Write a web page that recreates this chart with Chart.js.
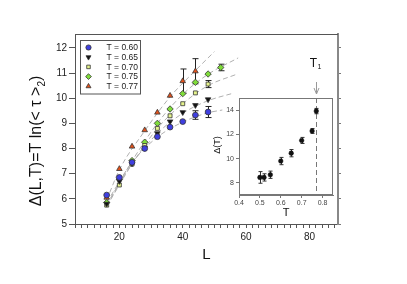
<!DOCTYPE html>
<html>
<head>
<meta charset="utf-8">
<script src="https://cdn.jsdelivr.net/npm/chart.js@4"></script>
<style>
  body { margin: 0; background: #fff; }
  #wrap { position: relative; width: 407px; height: 284px; }
  #main { position: absolute; left: 0; top: 0; }
  #inset { position: absolute; left: 200px; top: 50px; }
</style>
</head>
<body>
<div id="wrap">
  <canvas id="main" width="407" height="284"></canvas>
  <canvas id="inset" width="140" height="180"></canvas>
</div>
<script>
// main plot data: L and Delta(L,T) per temperature
const sizesL = [16, 20, 24, 28, 32, 36, 40, 44, 48, 52];
const temps = ['0.60', '0.65', '0.70', '0.75', '0.77'];
const delta060 = [6.15, 6.85, 7.45, 8.0, 8.47, 8.85, 9.07, 9.33, 9.45, null];
const delta065 = [5.8, 6.7, 7.4, 8.02, 8.6, 9.07, 9.44, 9.72, 9.95, null];
const delta070 = [5.75, 6.55, 7.38, 8.12, 8.8, 9.3, 9.78, 10.21, 10.56, null];
const delta075 = [5.85, 6.78, 7.52, 8.25, 9.0, 9.57, 10.18, 10.63, 10.96, 11.22];
const delta077 = [6.05, 7.19, 8.08, 8.73, 9.43, 10.1, 10.68, 11.07, null, null];
const err060 = [null, null, null, null, null, null, null, 0.17, 0.22, null];
const err065 = [null, null, null, null, null, null, null, null, null, null];
const err070 = [null, null, null, null, null, null, null, null, 0.14, null];
const err075 = [null, null, null, null, null, null, null, null, null, 0.13];
const err077 = [null, null, null, null, null, null, 0.48, 0.5, null, null];

// dashed fit curves
const fitL060 = [16, 24, 32, 40, 48, 52.5];
const fitY060 = [5.85, 7.45, 8.45, 9.05, 9.42, 9.53];
const fitL065 = [16, 24, 32, 40, 48, 56];
const fitY065 = [5.75, 7.4, 8.6, 9.4, 9.9, 10.2];
const fitL070 = [16, 24, 32, 40, 48, 57];
const fitY070 = [5.7, 7.38, 8.8, 9.78, 10.5, 10.95];
const fitL075 = [16, 24, 32, 40, 48, 57.5];
const fitY075 = [5.75, 7.5, 9.0, 10.15, 10.95, 11.6];
const fitL077 = [16, 20, 28, 36, 44, 50];
const fitY077 = [5.95, 7.15, 8.7, 10.05, 11.1, 11.85];

const xTicks = [];
for (let v = 6; v <= 88; v += 2) xTicks.push(v);
const yTicks = [5, 6, 7, 8, 9, 10, 11, 12];

// inset data: Delta(T) vs T
const insetT = [0.50, 0.52, 0.55, 0.60, 0.65, 0.70, 0.75, 0.77];
const insetDelta = [8.45, 8.45, 8.67, 9.8, 10.45, 11.5, 12.28, 13.92];
const insetErr = [0.48, 0.3, 0.3, 0.3, 0.3, 0.25, 0.2, 0.22];
const insetXTicks = [0.4, 0.5, 0.6, 0.7, 0.8];
const insetYTicks = [8, 10, 12, 14];
const tOne = 0.77;

const pts = (xs, ys) => xs.map((x, i) => ({ x: x, y: ys[i] })).filter(p => p.y !== null);

const styles = [
  { fill: '#3f3fe0', shape: 'circle', rot: 0, r: 2.9 },
  { fill: '#111111', shape: 'triangle', rot: 180, r: 3.2 },
  { fill: '#e4f28c', shape: 'rect', rot: 0, r: 2.8 },
  { fill: '#7fdc3a', shape: 'rectRot', rot: 0, r: 3.2 },
  { fill: '#e2521c', shape: 'triangle', rot: 0, r: 3.2 }
];
const series = [delta060, delta065, delta070, delta075, delta077];
const errors = [err060, err065, err070, err075, err077];
const fits = [[fitL060, fitY060], [fitL065, fitY065], [fitL070, fitY070], [fitL075, fitY075], [fitL077, fitY077]];

const datasets = [];
series.forEach((s, i) => {
  datasets.push({
    label: 'T = ' + temps[i],
    data: pts(sizesL, s),
    showLine: false,
    pointStyle: styles[i].shape,
    rotation: styles[i].rot,
    pointRadius: styles[i].r,
    backgroundColor: styles[i].fill,
    borderColor: '#333',
    borderWidth: 0.8,
    errs: errors[i],
    order: 0
  });
});
fits.forEach(f => {
  datasets.push({
    data: pts(f[0], f[1]),
    showLine: true,
    pointRadius: 0,
    borderColor: '#b0b0b0',
    borderWidth: 1,
    borderDash: [5, 3],
    cubicInterpolationMode: 'monotone',
    order: 1
  });
});

function drawMarker(ctx, st, x, y) {
  ctx.save();
  ctx.fillStyle = st.fill;
  ctx.strokeStyle = '#333';
  ctx.lineWidth = 0.8;
  Chart.helpers.drawPoint(ctx, { pointStyle: st.shape, rotation: st.rot, radius: st.r, borderWidth: 0.8 }, x, y);
  ctx.restore();
}

const mainDecor = {
  id: 'mainDecor',
  beforeDatasetsDraw(chart) {
    const ctx = chart.ctx, xs = chart.scales.x, ys = chart.scales.y;
    ctx.save();
    ctx.strokeStyle = '#222';
    ctx.lineWidth = 1;
    chart.data.datasets.forEach((ds, k) => {
      if (!ds.errs) return;
      sizesL.forEach((l, i) => {
        const e = ds.errs[i];
        const v = series[k][i];
        if (e == null || v == null) return;
        const px = Math.round(xs.getPixelForValue(l)) + 0.5;
        const y1 = ys.getPixelForValue(v + e), y2 = ys.getPixelForValue(v - e);
        ctx.beginPath();
        ctx.moveTo(px, y1); ctx.lineTo(px, y2);
        ctx.moveTo(px - 3, y1); ctx.lineTo(px + 3, y1);
        ctx.moveTo(px - 3, y2); ctx.lineTo(px + 3, y2);
        ctx.stroke();
      });
    });
    ctx.restore();
  },
  afterDraw(chart) {
    const ctx = chart.ctx, a = chart.chartArea;
    ctx.save();
    // top frame line
    ctx.strokeStyle = '#555';
    ctx.lineWidth = 1;
    ctx.beginPath();
    ctx.moveTo(a.left, a.top + 0.5); ctx.lineTo(a.right, a.top + 0.5);
    ctx.stroke();

    // y title with subscript
    ctx.fillStyle = '#111';
    ctx.translate(41, 141);
    ctx.rotate(-Math.PI / 2);
    const main = '\u0394(L,T)=T ln(< \u03C4 >';
    ctx.font = '16px "Liberation Sans", Arial, sans-serif';
    const w1 = ctx.measureText(main).width;
    ctx.font = '10px "Liberation Sans", Arial, sans-serif';
    const w2 = ctx.measureText('2').width;
    ctx.font = '16px "Liberation Sans", Arial, sans-serif';
    const w3 = ctx.measureText(')').width;
    const x0 = -(w1 + w2 + w3) / 2;
    ctx.textBaseline = 'alphabetic';
    ctx.fillText(main, x0, 0);
    ctx.font = '10px "Liberation Sans", Arial, sans-serif';
    ctx.fillText('2', x0 + w1, 4);
    ctx.font = '16px "Liberation Sans", Arial, sans-serif';
    ctx.fillText(')', x0 + w1 + w2, 0);
    ctx.restore();

    // x title
    ctx.save();
    ctx.fillStyle = '#111';
    ctx.font = '15px "Liberation Sans", Arial, sans-serif';
    ctx.textAlign = 'center';
    ctx.textBaseline = 'middle';
    ctx.fillText('L', 206.5, 255);

    // legend
    ctx.strokeStyle = '#555';
    ctx.lineWidth = 1;
    ctx.strokeRect(80.5, 40.5, 60, 53.5);
    ctx.font = '8.5px "Liberation Sans", Arial, sans-serif';
    ctx.textAlign = 'left';
    temps.forEach((t, i) => {
      const y = 47.5 + i * 9.7;
      drawMarker(ctx, Object.assign({}, styles[i], { r: styles[i].r * 0.9 }), 88.5, y);
      ctx.fillStyle = '#222';
      ctx.fillText('T = ' + t, 106.5, y + 0.5);
    });
    ctx.restore();
  }
};

const tickFont = { family: '"Liberation Sans", Arial, sans-serif', size: 10 };

new Chart(document.getElementById('main'), {
  type: 'scatter',
  data: { datasets: datasets },
  options: {
    responsive: false,
    devicePixelRatio: 1,
    animation: false,
    layout: { padding: { top: 34, left: 0, right: 0, bottom: 0 } },
    plugins: { legend: { display: false }, tooltip: { enabled: false } },
    scales: {
      x: {
        type: 'linear', position: 'bottom', min: 6, max: 89,
        afterBuildTicks: s => { s.ticks = xTicks.map(v => ({ value: v })); },
        afterFit: s => { s.height = 60; },
        ticks: {
          autoSkip: false, maxRotation: 0, padding: 3, color: '#222', font: tickFont,
          callback: v => (v % 20 === 0 ? String(v) : '')
        },
        grid: { drawOnChartArea: false, tickLength: 4, color: '#555' },
        border: { color: '#555', width: 1 }
      },
      y: {
        type: 'linear', position: 'left', min: 5, max: 12.55,
        afterBuildTicks: s => { s.ticks = yTicks.map(v => ({ value: v })); },
        afterFit: s => { s.width = 75; },
        ticks: { padding: 2, color: '#222', font: tickFont },
        grid: { drawOnChartArea: false, tickLength: 6, color: '#555' },
        border: { color: '#555', width: 1 }
      },
      y2: {
        type: 'linear', position: 'right', min: 5, max: 12.55,
        afterBuildTicks: s => { s.ticks = yTicks.map(v => ({ value: v })); },
        afterFit: s => { s.width = 69; },
        ticks: { callback: () => '', padding: 0 },
        grid: { drawOnChartArea: false, tickLength: 3, color: '#777' },
        border: { color: '#888', width: 2 }
      }
    }
  },
  plugins: [mainDecor]
});

// ---- inset ----
const insetDecor = {
  id: 'insetDecor',
  beforeDraw(chart) {
    const ctx = chart.ctx, a = chart.chartArea;
    ctx.save();
    ctx.fillStyle = '#fff';
    ctx.fillRect(a.left, a.top, a.right - a.left, a.bottom - a.top);
    ctx.restore();
  },
  beforeDatasetsDraw(chart) {
    const ctx = chart.ctx, xs = chart.scales.x, ys = chart.scales.y, a = chart.chartArea;
    ctx.save();
    // dashed T1 line
    const px = Math.round(xs.getPixelForValue(tOne)) + 0.5;
    ctx.strokeStyle = '#777';
    ctx.lineWidth = 1;
    ctx.setLineDash([5, 3]);
    ctx.beginPath();
    ctx.moveTo(px, a.top); ctx.lineTo(px, a.bottom);
    ctx.stroke();
    ctx.setLineDash([]);
    // error bars
    ctx.strokeStyle = '#333';
    insetT.forEach((t, i) => {
      const x = Math.round(xs.getPixelForValue(t)) + 0.5;
      const y1 = ys.getPixelForValue(insetDelta[i] + insetErr[i]);
      const y2 = ys.getPixelForValue(insetDelta[i] - insetErr[i]);
      ctx.beginPath();
      ctx.moveTo(x, y1); ctx.lineTo(x, y2);
      ctx.moveTo(x - 2, y1); ctx.lineTo(x + 2, y1);
      ctx.moveTo(x - 2, y2); ctx.lineTo(x + 2, y2);
      ctx.stroke();
    });
    ctx.restore();
  },
  afterDraw(chart) {
    const ctx = chart.ctx, a = chart.chartArea, xs = chart.scales.x;
    ctx.save();
    ctx.strokeStyle = '#777';
    ctx.lineWidth = 1;
    ctx.strokeRect(a.left + 0.5, a.top + 0.5, a.right - a.left - 1, a.bottom - a.top - 1);
    // arrow to T1
    const px = Math.round(xs.getPixelForValue(tOne)) + 0.5;
    ctx.strokeStyle = '#999';
    ctx.beginPath();
    ctx.moveTo(px, a.top - 16); ctx.lineTo(px, a.top - 4);
    ctx.moveTo(px - 2.5, a.top - 10); ctx.lineTo(px, a.top - 4); ctx.lineTo(px + 2.5, a.top - 10);
    ctx.stroke();
    // labels
    ctx.fillStyle = '#111';
    ctx.textAlign = 'center';
    ctx.textBaseline = 'middle';
    ctx.font = '12px "Liberation Sans", Arial, sans-serif';
    ctx.fillText('T', px - 3, 14);
    ctx.font = '7px "Liberation Sans", Arial, sans-serif';
    ctx.fillText('1', px + 3, 17);
    ctx.font = '11px "Liberation Sans", Arial, sans-serif';
    ctx.fillText('T', 86, 163);
    ctx.translate(18, 95);
    ctx.rotate(-Math.PI / 2);
    ctx.font = '9px "Liberation Sans", Arial, sans-serif';
    ctx.fillText('\u0394(T)', 0, 0);
    ctx.restore();
  }
};

const smallFont = { family: '"Liberation Sans", Arial, sans-serif', size: 7 };

new Chart(document.getElementById('inset'), {
  type: 'scatter',
  data: {
    datasets: [{
      data: pts(insetT, insetDelta),
      pointStyle: 'circle',
      pointRadius: 2.3,
      backgroundColor: '#111',
      borderColor: '#111',
      borderWidth: 0.5
    }]
  },
  options: {
    responsive: false,
    devicePixelRatio: 1,
    animation: false,
    layout: { padding: { top: 48, left: 0, right: 7, bottom: 0 } },
    plugins: { legend: { display: false }, tooltip: { enabled: false } },
    scales: {
      x: {
        type: 'linear', min: 0.4, max: 0.85,
        afterBuildTicks: s => { s.ticks = insetXTicks.map(v => ({ value: v })); },
        afterFit: s => { s.height = 35; },
        ticks: { autoSkip: false, maxRotation: 0, padding: 1, color: '#444', font: smallFont, callback: v => v.toFixed(1) },
        grid: { drawOnChartArea: false, tickLength: 3, color: '#777' },
        border: { color: '#777', width: 1 }
      },
      y: {
        type: 'linear', min: 7, max: 15,
        afterBuildTicks: s => { s.ticks = insetYTicks.map(v => ({ value: v })); },
        afterFit: s => { s.width = 39; },
        ticks: { padding: 2, color: '#444', font: smallFont },
        grid: { drawOnChartArea: false, tickLength: 3, color: '#777' },
        border: { color: '#777', width: 1 }
      }
    }
  },
  plugins: [insetDecor]
});
</script>
</body>
</html>
